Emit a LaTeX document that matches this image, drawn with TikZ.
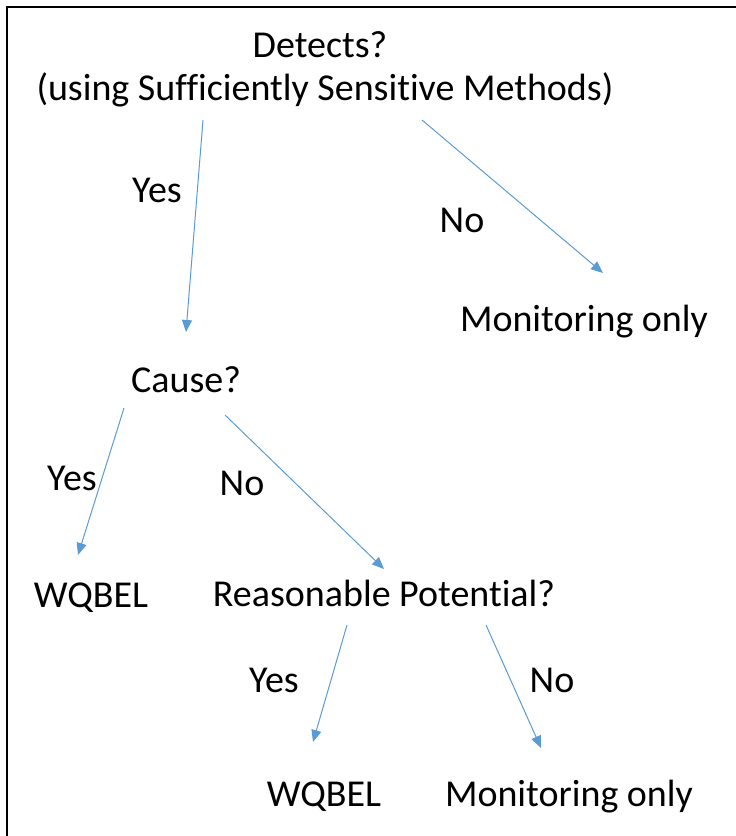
\documentclass[tikz,border=0pt]{standalone}
\usepackage{fontspec}
\setmainfont[Ligatures={NoCommon}]{Carlito}
\usetikzlibrary{arrows.meta}
\definecolor{arrowblue}{HTML}{5B9BD5}
\tikzset{
  lbl/.style={inner sep=0pt, font=\fontsize{38}{45}\selectfont},
  conn/.style={draw=arrowblue, line width=1pt, -{Triangle[length=12pt,width=10pt]}},
}
\begin{document}
\begin{tikzpicture}[x=1pt,y=-1pt]
\useasboundingbox (0,0) rectangle (736,836);
\draw[line width=2.2pt] (7,836) -- (7,7) -- (736,7);
\node[lbl] (det) at (320,45) {Detects?};
\node[lbl] (using) at (325,90) {(using Sufficiently Sensitive Methods)};
\node[lbl] (yes1) at (157,190) {Yes};
\node[lbl] (no1) at (462,220) {No};
\node[lbl] (mon1) at (584,322) {Monitoring only};
\node[lbl] (cause) at (186,380) {Cause?};
\node[lbl] (yes2) at (72,478) {Yes};
\node[lbl] (no2) at (242,483) {No};
\node[lbl] (wq1) at (91,598) {WQBEL};
\node[lbl] (rp) at (384,593) {Reasonable Potential?};
\node[lbl] (yes3) at (274,680) {Yes};
\node[lbl] (no3) at (552,680) {No};
\node[lbl] (wq2) at (324,797) {WQBEL};
\node[lbl] (mon2) at (569,797) {Monitoring only};
\coordinate (a1s) at (203,120); \coordinate (a1e) at (186,332);
\coordinate (a2s) at (422,120); \coordinate (a2e) at (603,273);
\coordinate (a3s) at (124,408); \coordinate (a3e) at (78,555);
\coordinate (a4s) at (225,415); \coordinate (a4e) at (384,569);
\coordinate (a5s) at (347,625); \coordinate (a5e) at (313,742);
\coordinate (a6s) at (486,625); \coordinate (a6e) at (541,748);
\draw[conn] (a1s) -- (a1e);
\draw[conn] (a2s) -- (a2e);
\draw[conn] (a3s) -- (a3e);
\draw[conn] (a4s) -- (a4e);
\draw[conn] (a5s) -- (a5e);
\draw[conn] (a6s) -- (a6e);
\end{tikzpicture}
\end{document}
